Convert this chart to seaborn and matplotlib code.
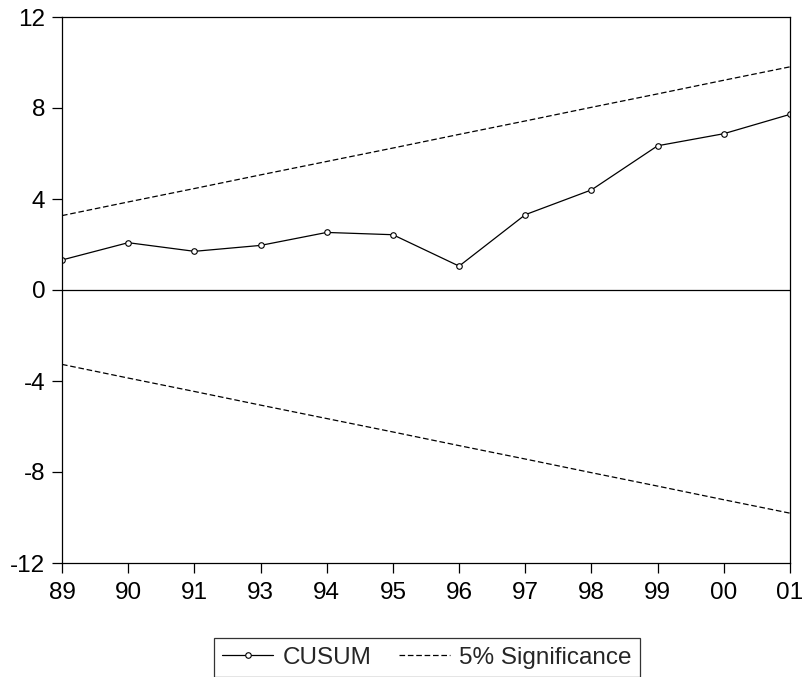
import matplotlib
matplotlib.use("Agg")
import matplotlib.pyplot as plt
import numpy as np
import pandas as pd
import seaborn as sns

# values
years = ["89", "90", "91", "93", "94", "95", "96", "97", "98", "99", "00", "01"]
cusum = [1.32, 2.08, 1.70, 1.96, 2.53, 2.43, 1.05, 3.31, 4.40, 6.34, 6.87, 7.72]
upper = [3.27, 3.87, 4.46, 5.06, 5.65, 6.24, 6.84, 7.43, 8.03, 8.62, 9.22, 9.81]
lower = [-3.27, -3.87, -4.46, -5.06, -5.65, -6.24, -6.84, -7.43, -8.03, -8.62, -9.22, -9.81]

df = pd.DataFrame({"pos": np.arange(len(years)), "cusum": cusum,
                   "upper": upper, "lower": lower})

sns.set_style("ticks")
plt.rcParams["font.family"] = ["Liberation Sans", "DejaVu Sans"]
plt.rcParams["axes.unicode_minus"] = False

fig = plt.figure(figsize=(8.02, 6.77), dpi=100)
ax = fig.add_axes([62 / 802, 1 - 563 / 677, 728 / 802, 546 / 677])

dash = (0, (4.5, 2.2))
sns.lineplot(data=df, x="pos", y="cusum", ax=ax, color="black", lw=0.9,
             marker="o", markersize=4, markerfacecolor="white",
             markeredgecolor="black", markeredgewidth=0.8, label="CUSUM")
sns.lineplot(data=df, x="pos", y="upper", ax=ax, color="black", lw=0.9,
             linestyle=dash, label="5% Significance")
sns.lineplot(data=df, x="pos", y="lower", ax=ax, color="black", lw=0.9,
             linestyle=dash, legend=False)
ax.axhline(0, color="black", lw=0.9)

ax.set_xlim(0, len(years) - 1)
ax.set_ylim(-12, 12)
ax.set_xticks(df["pos"])
ax.set_xticklabels(years)
ax.set_yticks([-12, -8, -4, 0, 4, 8, 12])
ax.set_xlabel("")
ax.set_ylabel("")
ax.tick_params(axis="both", direction="out", length=7, width=0.9,
               labelsize=17.5, color="black", labelcolor="black")
ax.tick_params(axis="x", pad=7)
ax.tick_params(axis="y", pad=5)
for s in ax.spines.values():
    s.set_visible(True)
    s.set_color("black")
    s.set_linewidth(0.9)

handles, labels = ax.get_legend_handles_labels()
ax.get_legend().remove()
leg = fig.legend(handles, labels, loc="upper center", ncol=2,
                 bbox_to_anchor=(427 / 802, 1 - 638 / 677), fontsize=17.5,
                 frameon=True, fancybox=False, edgecolor="black",
                 handlelength=2.1, handletextpad=0.4, columnspacing=1.1,
                 borderpad=0.35, borderaxespad=0)
leg.get_frame().set_linewidth(0.9)

fig.savefig("out.png", dpi=100)
